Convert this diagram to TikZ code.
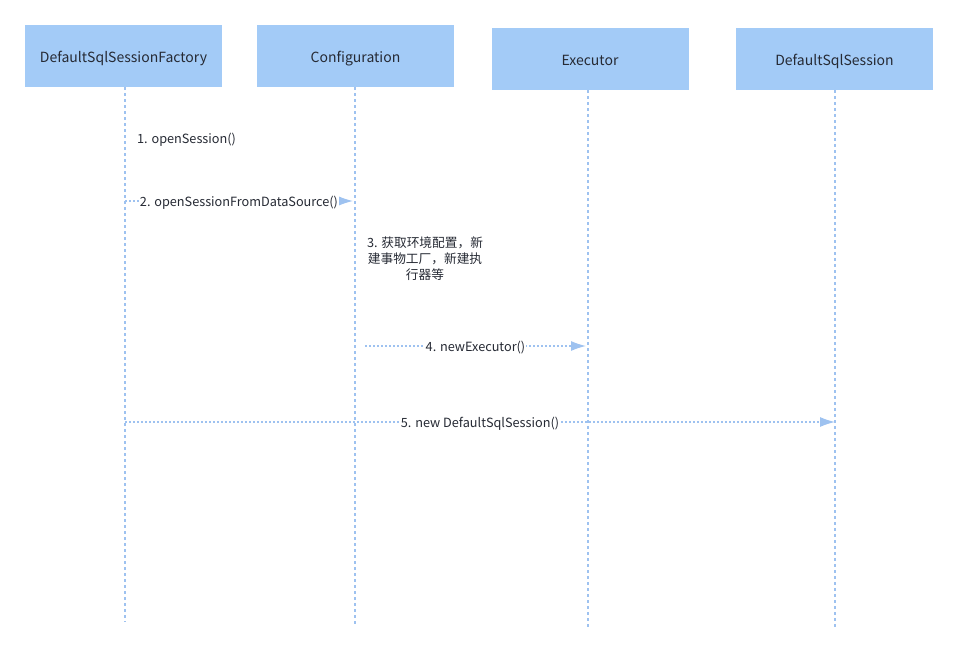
\documentclass[tikz,border=0pt]{standalone}
\usepackage{fontspec}
\setmainfont{Noto Sans CJK SC}
\usepackage{tikz}
\usetikzlibrary{arrows.meta}
\definecolor{boxfill}{RGB}{163,203,247}
\definecolor{lifec}{RGB}{158,194,240}
\definecolor{ink}{RGB}{38,42,52}

\begin{document}
\begin{tikzpicture}[x=1pt,y=-1pt,
                    box/.style={fill=boxfill,minimum width=197pt,minimum height=62pt,inner sep=0pt,text height=13pt,text depth=0pt,font=\fontsize{14}{16}\selectfont,text=ink},
                    life/.style={lifec,line width=1.3pt,dash pattern=on 3pt off 3pt},
                    msg/.style={lifec,line width=1.2pt,dash pattern=on 2pt off 2pt,-{Latex[length=15pt,width=10pt]}},
                    lbl/.style={fill=white,inner sep=1pt,font=\fontsize{12.7}{15}\selectfont,text=ink}]
  \useasboundingbox (0,0) rectangle (959,655);
  \node[box] (fac) at (123.5,56) {DefaultSqlSessionFactory};
  \node[box] (cfg) at (355.5,56) {Configuration};
  \node[box] (exe) at (590,59) {Executor};
  \node[box] (ses) at (834.5,59) {DefaultSqlSession};
  % lifelines
  \coordinate (facend) at (125,622);
  \coordinate (cfgend) at (355,625);
  \coordinate (exeend) at (588,630);
  \coordinate (sesend) at (835,630);
  \draw[life] (fac.south -| facend) -- (facend);
  \draw[life] (cfg.south -| cfgend) -- (cfgend);
  \draw[life] (exe.south -| exeend) -- (exeend);
  \draw[life] (ses.south -| sesend) -- (sesend);
  % messages
  \node[lbl, anchor=west] (m1) at (136,140) {1. openSession()};
  \coordinate (f2) at (125,201); \coordinate (c2) at (353,201);
  \draw[msg] (f2) -- node[lbl, yshift=-1.5pt] (m2) {2. openSessionFromDataSource()} (c2);
  \node[lbl, align=center, font=\fontsize{12.7}{16}\selectfont] (m3) at (425,259) {3. 获取环境配置，新\\建事物工厂，新建执\\行器等};
  \coordinate (c4) at (365,346); \coordinate (e4) at (586,346);
  \draw[msg] (c4) -- node[lbl, yshift=-1.5pt] (m4) {4. newExecutor()} (e4);
  \coordinate (f5) at (125,422); \coordinate (s5) at (835,422);
  \draw[msg] (f5) -- node[lbl, yshift=-1.5pt] (m5) {5. new DefaultSqlSession()} (s5);
\end{tikzpicture}
\end{document}
